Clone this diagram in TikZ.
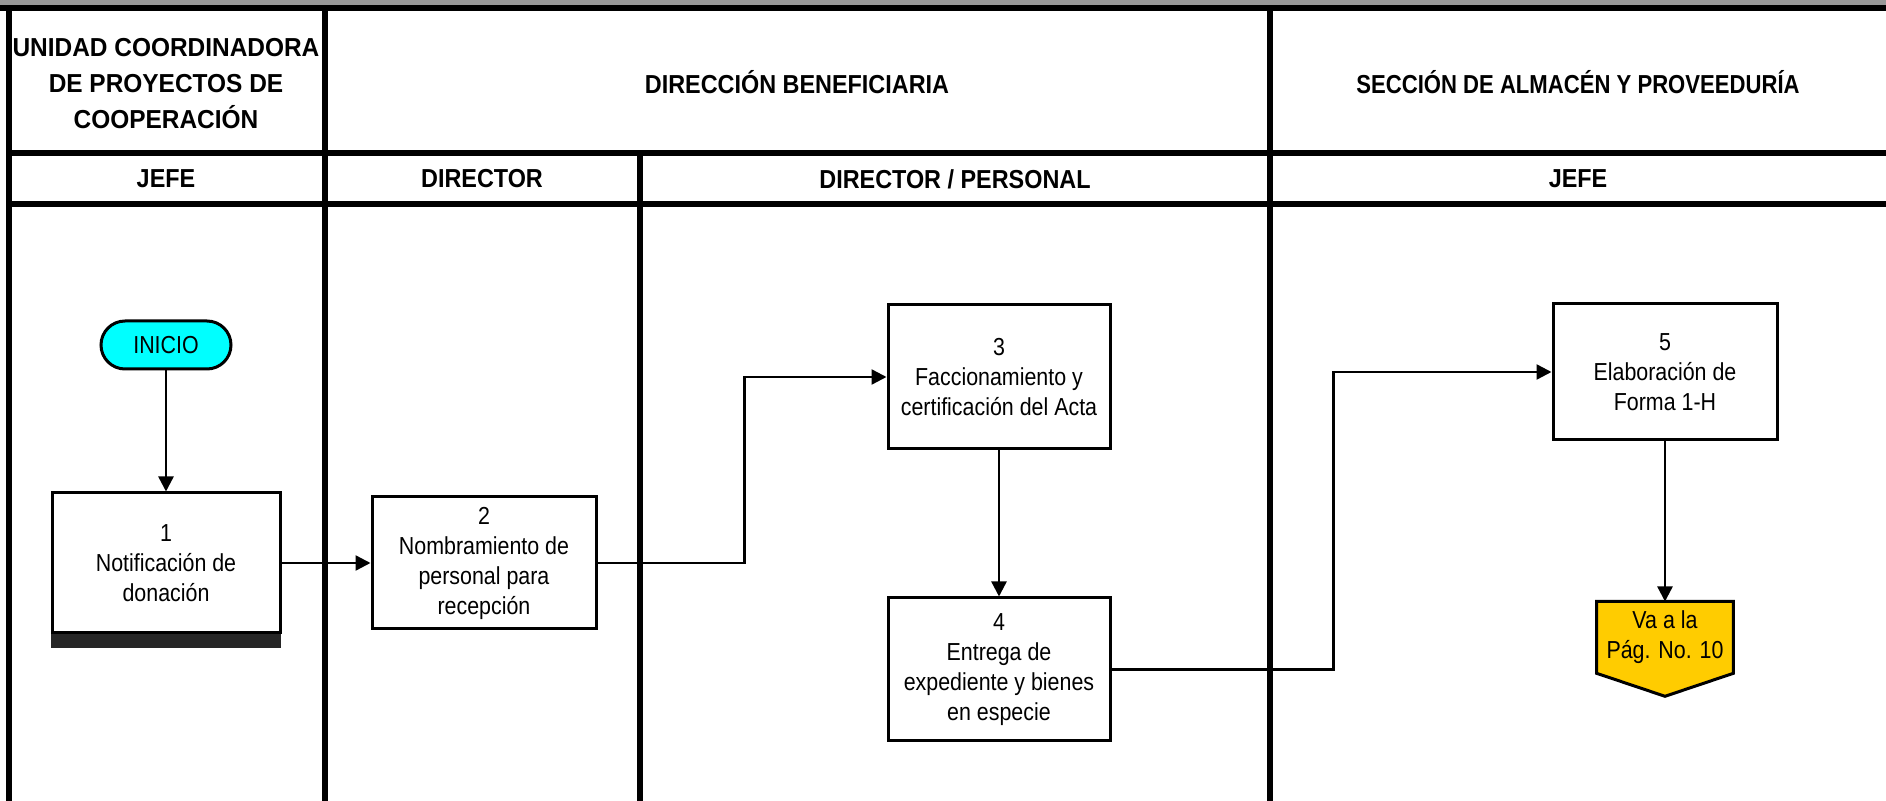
\documentclass[tikz,border=0pt]{standalone}
\usepackage{fontspec}
\setmainfont{Liberation Sans}
\newfontfamily\hdrfont[FakeStretch=0.9]{Liberation Sans}
\newfontfamily\hdrwide[FakeStretch=0.94]{Liberation Sans}
\newfontfamily\hdrslim[FakeStretch=0.85]{Liberation Sans}
\newfontfamily\boxfont[FakeStretch=0.87]{Liberation Sans}
\usepackage{tikz}
\usetikzlibrary{positioning, arrows.meta, shadows, calc, backgrounds}

\definecolor{iniciocyan}{HTML}{00FFFF}
\definecolor{vaagold}{HTML}{FFCC00}
\definecolor{bargray}{HTML}{999999}

\begin{document}
\begin{tikzpicture}[x=0.5pt, y=-0.5pt,
    lane/.style={line width=3pt},
    lanetitle/.style={align=center, font=\hdrfont\bfseries\fontsize{13}{18}\selectfont},
    stepbox/.style={draw, line width=1.5pt, fill=white, align=center, inner sep=0pt,
        font=\boxfont\fontsize{12.3}{15}\selectfont},
    startbox/.style={draw, line width=1.5pt, fill=iniciocyan, rounded corners=12pt,
        minimum width=65pt, minimum height=24pt, font=\boxfont\fontsize{12.3}{15}\selectfont},
    pagebox/.style={align=center, inner sep=0pt, minimum width=68pt, minimum height=35.5pt,
        font=\boxfont\fontsize{12.3}{15}\selectfont},
    flow/.style={line width=1.2pt, -{Triangle[length=7.5pt, width=7.5pt]}}
  ]
  \useasboundingbox (0,0) rectangle (1886,801);

  % Lanes
  \fill[bargray] (0,0) rectangle (1886,8);
  \draw[lane] (0,8) -- (1886,8);
  \draw[lane] (9,8) -- (9,801);
  \draw[lane] (325,8) -- (325,801);
  \draw[lane] (640,153) -- (640,801);
  \draw[lane] (1270,8) -- (1270,801);
  \draw[lane] (9,153) -- (1886,153);
  \draw[lane] (9,204) -- (1886,204);

  \node (unidad) [lanetitle, font=\hdrwide\bfseries\fontsize{13}{18}\selectfont] at (166,84)
      {UNIDAD COORDINADORA\\DE PROYECTOS DE\\COOPERACIÓN};
  \node (direccion) [lanetitle] at (797,82) {DIRECCIÓN BENEFICIARIA};
  \node (seccion) [lanetitle, font=\hdrslim\bfseries\fontsize{13}{18}\selectfont] at (1578,82)
      {SECCIÓN DE ALMACÉN Y PROVEEDURÍA};
  \node (jefeA) [lanetitle] at (166,179) {JEFE};
  \node (director) [lanetitle] at (482,179) {DIRECTOR};
  \node (personal) [lanetitle] at (955,179) {DIRECTOR / PERSONAL};
  \node (jefeB) [lanetitle] at (1578,179) {JEFE};

  % Nodes
  \node (start) [startbox] at (166,345) {INICIO};
  \node (n1) [stepbox, minimum width=114pt, minimum height=70pt,
      drop shadow={shadow xshift=0pt, shadow yshift=-7pt, shadow scale=1.01,
        fill=black, opacity=.85}]
      at (166,563) {1\\Notificación de\\donación};
  \node (n2) [stepbox, minimum width=112pt, minimum height=66pt, right=44.5pt of n1]
      {2\\Nombramiento de\\personal para\\recepción};
  \node (n3) [stepbox, minimum width=111pt, minimum height=72pt] at (999,377)
      {3\\Faccionamiento y\\certificación del Acta};
  \node (n4) [stepbox, minimum width=111pt, minimum height=71.5pt, below=73pt of n3]
      {4\\Entrega de\\expediente y bienes\\en especie};
  \node (n5) [stepbox, minimum width=112pt, minimum height=68pt] at (1665,372)
      {5\\Elaboración de\\Forma 1-H};
  \node (p10) [pagebox, below=80pt of n5] {Va a la\\Pág. No. 10};
  \begin{scope}[on background layer]
    \draw[line width=1.5pt, fill=vaagold] (p10.north west) -- (p10.north east)
      -- (p10.south east) -- ($(p10.south)+(0,23)$) -- (p10.south west) -- cycle;
  \end{scope}

  % Edges
  \draw[flow] (start) -- (n1);
  \draw[flow] (n1) -- (n2);
  \draw[flow] (n2.east) -- ++(147,0) |- (n3.west);
  \draw[flow] (n3) -- (n4);
  \draw[flow] (n4.east) -- ++(222,0) |- (n5.west);
  \draw[flow] (n5) -- (p10);

\end{tikzpicture}
\end{document}
